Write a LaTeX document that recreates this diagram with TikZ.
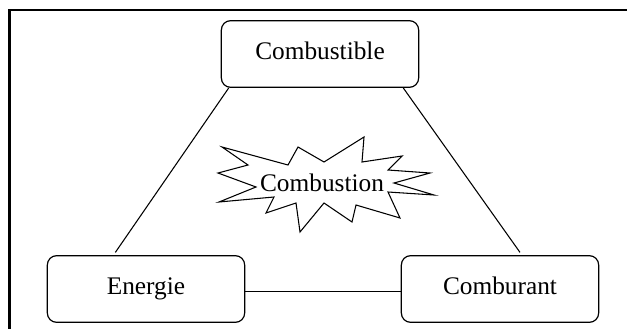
\documentclass[tikz,border=0pt]{standalone}
\usepackage{fontspec}
\setmainfont{Liberation Serif}
\usetikzlibrary{calc}
\tikzstyle{element} = [rectangle, rounded corners=7pt, minimum width=148pt, minimum height=50pt, text centered, text height=1.7ex, text depth=0ex, draw=black, line width=0.9pt, font=\fontsize{19}{22}\selectfont]
\tikzstyle{link} = [line width=0.8pt]
\tikzstyle{frame} = [line width=2.2pt]

\begin{document}
\begin{tikzpicture}[x=0.75pt, y=-0.75pt]
  \useasboundingbox (0,0) rectangle (627,328);
  \draw [frame] (9.5,330) -- (9.5,10) -- (627,10);
  \node (fuel)[element] at (320,54){Combustible};
  \node (heat)[element] at (146,289){Energie};
  \node (oxy)[element] at (500,289){Comburant};
  % starburst
  \draw [line width=0.8pt] (222,147) -- (288,165) -- (298,147) -- (324,162) -- (364,137) -- (362,162)
    -- (402,156) -- (388,170) -- (430,173) -- (394,183) -- (434,195) -- (388,192) -- (400,218)
    -- (356,205) -- (352,222) -- (324,203) -- (300,232) -- (296,203) -- (266,213) -- (274,197)
    -- (219,202) -- (256,187) -- (218,173) -- (248,165) -- cycle;
  \node (burn)[font=\fontsize{19}{22}\selectfont, fill=white, inner sep=1pt] at (322,183){Combustion};
  \draw [link] ([xshift=6pt]fuel.south west) -- ([xshift=-23pt,yshift=2pt]heat.north);
  \draw [link] ([xshift=-12pt]fuel.south east) -- ([xshift=15pt,yshift=2pt]oxy.north);
  \draw [link] ([yshift=-2pt]heat.east) -- ([yshift=-2pt]oxy.west);
\end{tikzpicture}
\end{document}
